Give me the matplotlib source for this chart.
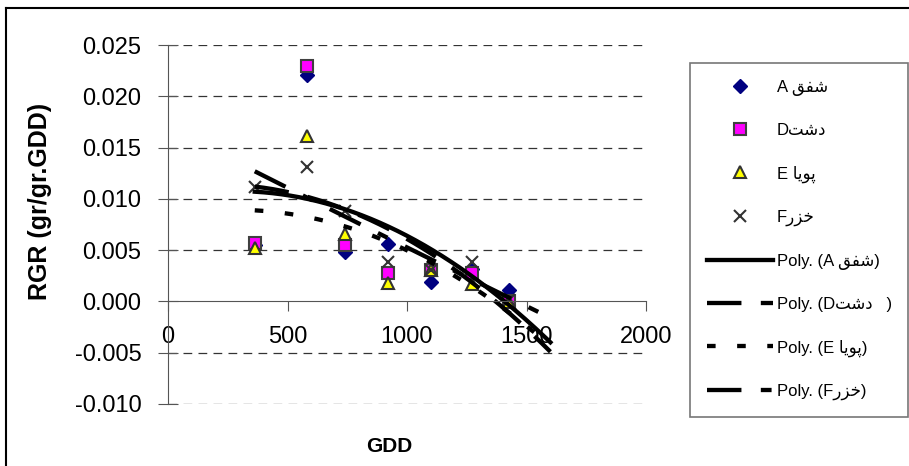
import numpy as np
import matplotlib
matplotlib.use("Agg")
import matplotlib.pyplot as plt
from matplotlib.lines import Line2D

plt.rcParams['font.family'] = ['Liberation Sans', 'DejaVu Sans']

# ---------------------------------------------------------------- data
gdd = [363, 582, 739, 919, 1101, 1271, 1428]
rgr_A = [0.0055, 0.0221, 0.0048, 0.0056, 0.0019, 0.0032, 0.0011]
rgr_D = [0.0057, 0.0230, 0.0055, 0.0028, 0.0031, 0.0028, 0.0000]
rgr_E = [0.0052, 0.0161, 0.0066, 0.0018, 0.0031, 0.0017, -0.0001]
rgr_F = [0.0112, 0.0131, 0.0088, 0.0038, 0.0031, 0.0038, 0.0001]
forecast_end = 1600

names = ['شفق', 'دشت', 'پویا', 'خزر']
letters = ['A', 'D', 'E', 'F']

# ---------------------------------------------------------------- arabic shaping (no bidi engine in matplotlib)
FORMS = {
    'ش': ('\uFEB5', '\uFEB6', '\uFEB7', '\uFEB8'),
    'ف': ('\uFED1', '\uFED2', '\uFED3', '\uFED4'),
    'ق': ('\uFED5', '\uFED6', '\uFED7', '\uFED8'),
    'ت': ('\uFE95', '\uFE96', '\uFE97', '\uFE98'),
    'پ': ('\uFB56', '\uFB57', '\uFB58', '\uFB59'),
    'ی': ('\uFBFC', '\uFBFD', '\uFBFE', '\uFBFF'),
    'خ': ('\uFEA5', '\uFEA6', '\uFEA7', '\uFEA8'),
    'د': ('\uFEA9', '\uFEAA', None, None),
    'و': ('\uFEED', '\uFEEE', None, None),
    'ا': ('\uFE8D', '\uFE8E', None, None),
    'ز': ('\uFEAF', '\uFEB0', None, None),
    'ر': ('\uFEAD', '\uFEAE', None, None),
}


def shape(word):
    out = []
    for i, ch in enumerate(word):
        f = FORMS[ch]
        prev_joins = i > 0 and FORMS[word[i - 1]][2] is not None
        next_joins = i < len(word) - 1 and f[2] is not None
        if prev_joins and next_joins:
            out.append(f[3])
        elif prev_joins:
            out.append(f[1])
        elif next_joins:
            out.append(f[2])
        else:
            out.append(f[0])
    return ''.join(reversed(out))


vis = [shape(n) for n in names]
point_labels = ['A ' + vis[0], 'D' + vis[1], 'E ' + vis[2], 'F' + vis[3]]
trend_labels = ['Poly. (A ' + vis[0] + ')', 'Poly. (D' + vis[1] + '   )',
                'Poly. (E ' + vis[2] + ')', 'Poly. (F' + vis[3] + ')']

# ---------------------------------------------------------------- figure
fig = plt.figure(figsize=(9.09, 4.66), dpi=100)
ax = fig.add_axes([168 / 909, 1 - 404 / 466, (646 - 168) / 909, (404 - 45) / 466])

series = [rgr_A, rgr_D, rgr_E, rgr_F]
mstyles = [
    dict(marker='D', color='#000080', markersize=7, markeredgecolor='#000080'),
    dict(marker='s', markerfacecolor='#FF00FF', markersize=9, markeredgecolor='#404040', markeredgewidth=1.5),
    dict(marker='^', markerfacecolor='#FFFF00', markersize=9, markeredgecolor='#333333', markeredgewidth=1.5),
    dict(marker='x', color='#333333', markersize=9, markeredgewidth=1.5),
]
dashes = ['-', (0, (8, 4.5)), (0, (2, 5)), (0, (8, 4.5, 2.5, 4.5))]

handles = []
for y, ms in zip(series, mstyles):
    h, = ax.plot(gdd, y, linestyle='none', **ms)
    handles.append(h)

xx = np.linspace(gdd[0], forecast_end, 200)
for y, ls in zip(series, dashes):
    c = np.polyfit(gdd, y, 2)
    h, = ax.plot(xx, np.polyval(c, xx), color='black', linewidth=3.1, linestyle=ls)
    handles.append(h)

ax.set_xlim(0, 2000)
ax.set_ylim(-0.010, 0.025)
ax.set_xticks([0, 500, 1000, 1500, 2000])
ax.set_yticks(np.arange(-0.010, 0.0251, 0.005))
ax.yaxis.set_major_formatter(matplotlib.ticker.FormatStrFormatter('%.3f'))

for yv in np.arange(-0.010, 0.0251, 0.005):
    if abs(yv) > 1e-9:
        ax.axhline(yv, color='#333333', linewidth=0.9, linestyle=(0, (7, 5)), zorder=0)

for s in ['top', 'right']:
    ax.spines[s].set_visible(False)
ax.spines['bottom'].set_position(('data', 0))
ax.spines['bottom'].set_color('#555555')
ax.spines['left'].set_color('#555555')
ax.tick_params(axis='y', direction='inout', length=14, colors='#555555', labelcolor='black',
               labelsize=17, pad=12)
ax.tick_params(axis='x', direction='out', length=7, colors='#555555', labelcolor='black',
               labelsize=17, pad=11)

fig.text(389 / 909, 1 - 446 / 466, 'GDD', fontsize=15, fontweight='bold', ha='center', va='center')
fig.text(40 / 909, 1 - 201 / 466, 'RGR (gr/gr.GDD)', fontsize=18, fontweight='bold',
         rotation=90, ha='center', va='center')

leg = fig.legend(handles, point_labels + trend_labels,
                 loc='upper left', bbox_to_anchor=(690 / 909, 1 - 63 / 466, 218 / 909, 0.0001),
                 mode='expand', fontsize=12, frameon=True, fancybox=False,
                 handlelength=4.0, handletextpad=0.2, labelspacing=1.64, borderpad=1.0,
                 borderaxespad=0)
leg.get_frame().set_edgecolor('#555555')
leg.get_frame().set_linewidth(1.2)

# chart area border (top and left visible)
fig.add_artist(Line2D([6 / 909, 6 / 909], [0, 1 - 8 / 466], color='black', linewidth=1.5))
fig.add_artist(Line2D([6 / 909, 1], [1 - 8 / 466, 1 - 8 / 466], color='black', linewidth=1.5))

fig.savefig('out.png', dpi=100)
